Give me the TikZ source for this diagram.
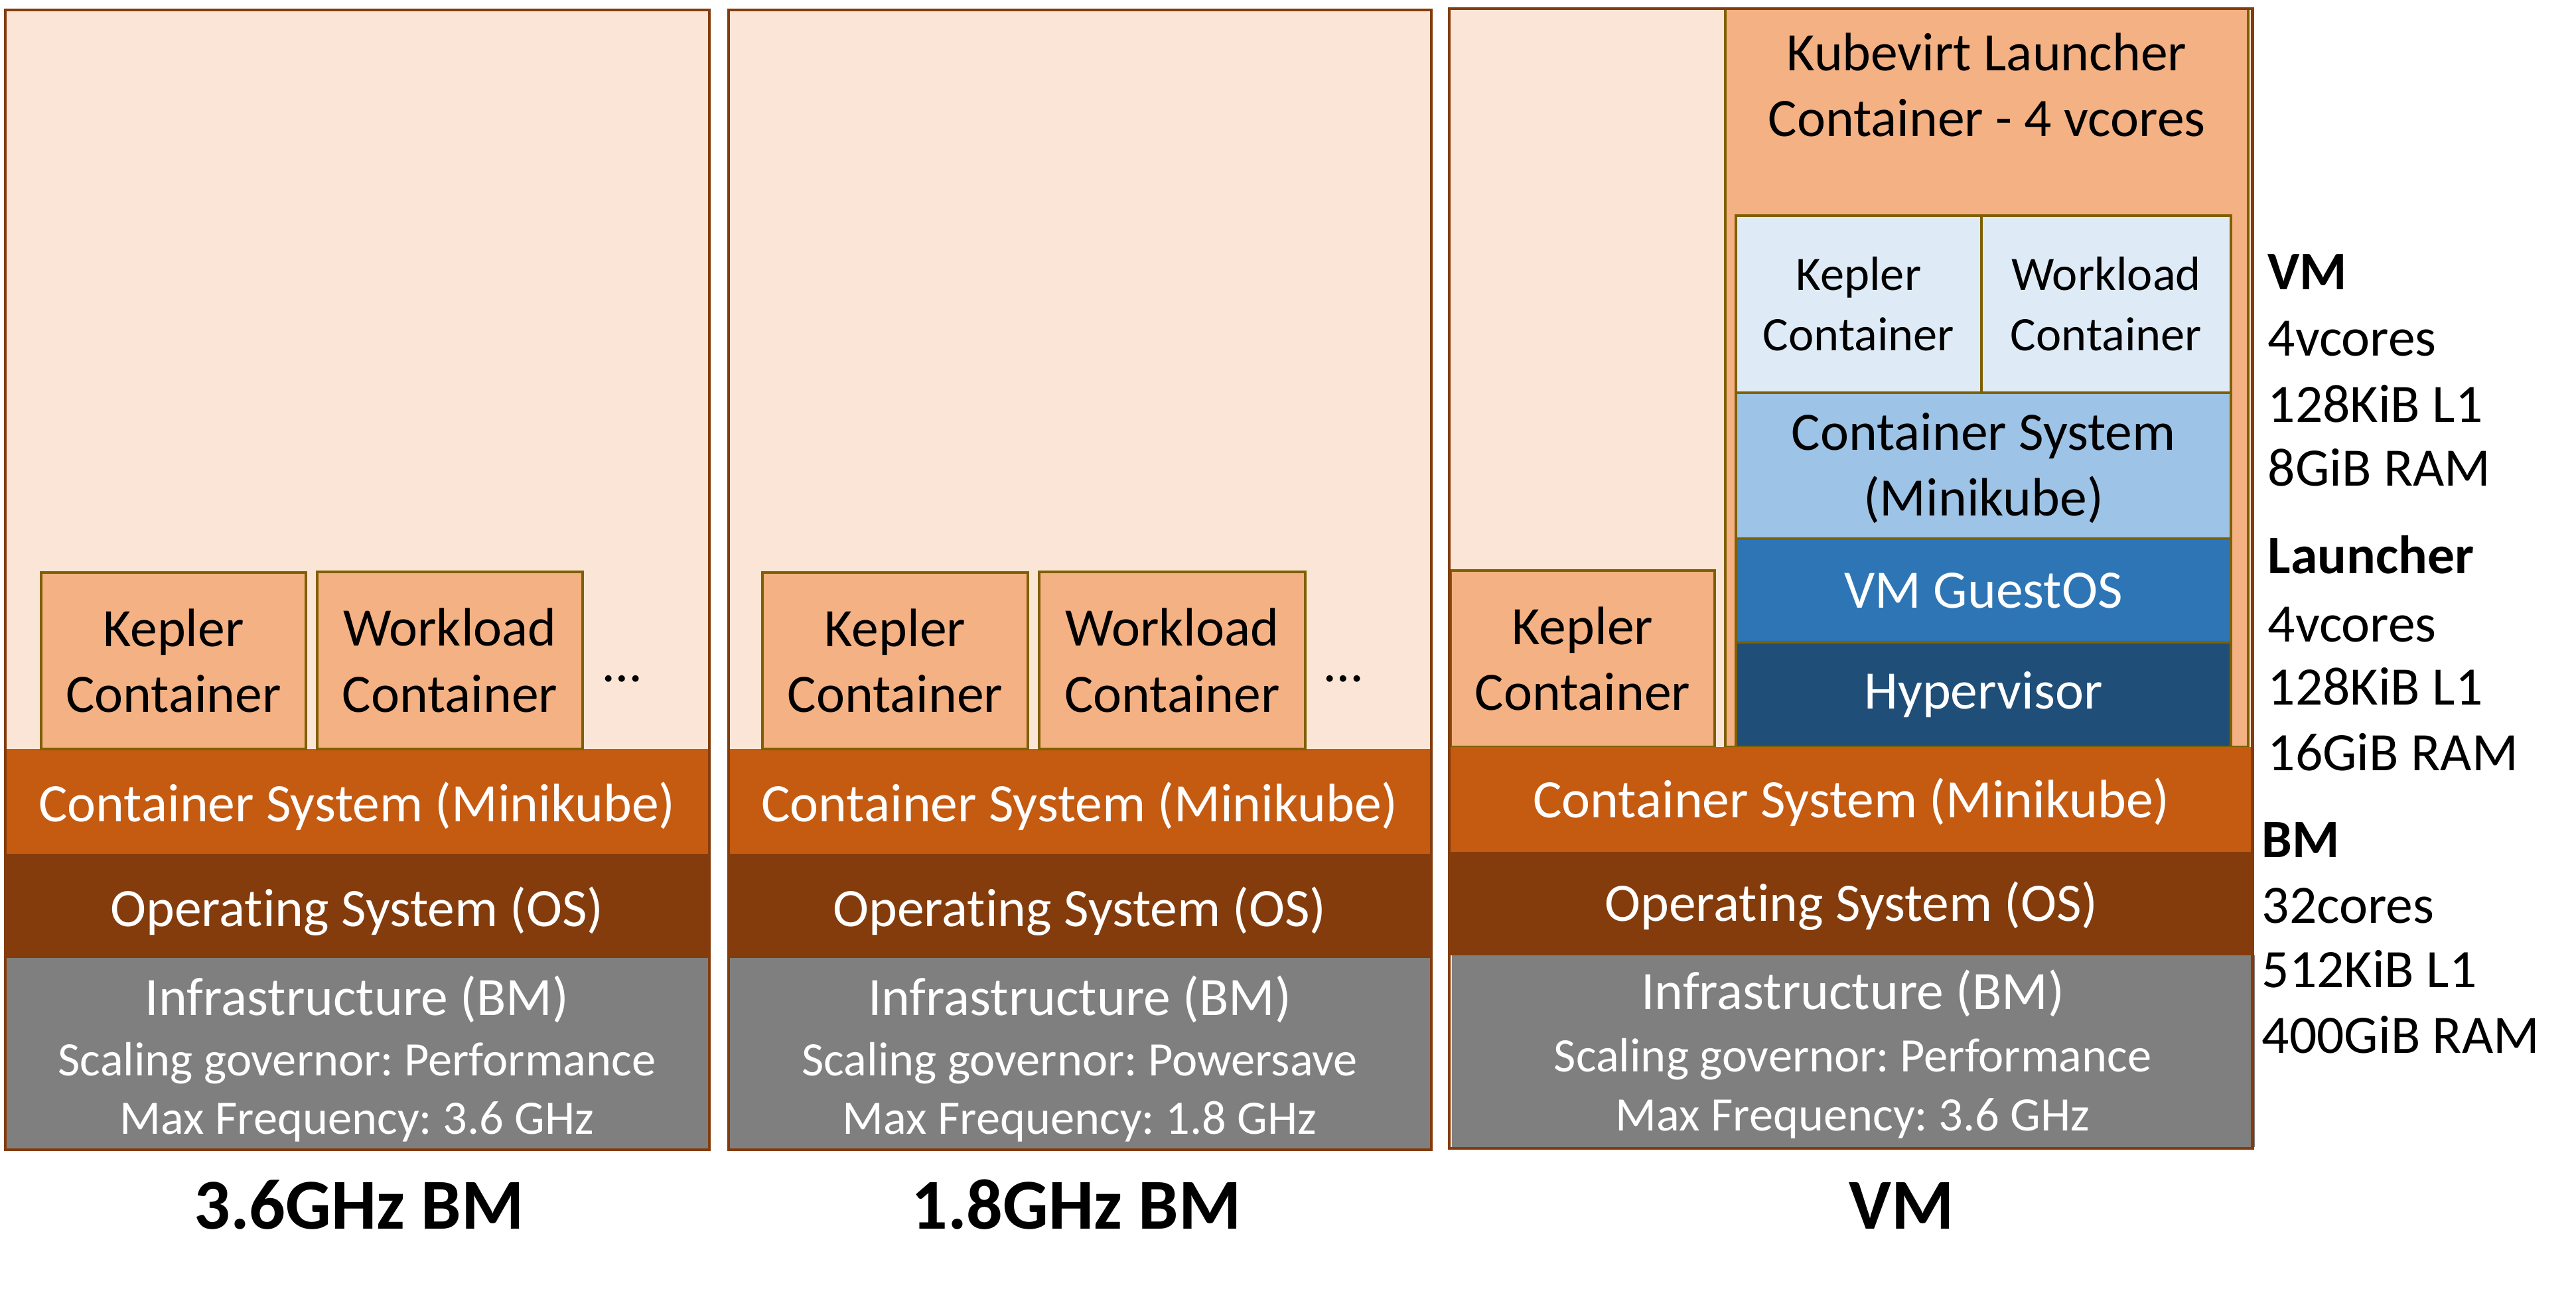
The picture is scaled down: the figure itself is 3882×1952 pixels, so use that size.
\documentclass[tikz,border=0pt]{standalone}
\usepackage{fontspec}
\setmainfont{Carlito}[Ligatures={NoCommon}]
\frenchspacing
\definecolor{peach}{HTML}{FBE5D6}
\definecolor{boxor}{HTML}{F4B183}
\definecolor{olivebr}{HTML}{7F6000}
\definecolor{panelbr}{HTML}{843C0C}
\definecolor{csband}{HTML}{C55A11}
\definecolor{osband}{HTML}{843C0C}
\definecolor{infraband}{HTML}{7F7F7F}
\definecolor{lblue}{HTML}{DEEBF7}
\definecolor{mblue}{HTML}{9DC3E6}
\definecolor{gblue}{HTML}{2E75B6}
\definecolor{hblue}{HTML}{1F4E79}
\begin{document}
\begin{tikzpicture}[x=0.01cm,y=-0.01cm,
  panelfill/.style={fill=peach},
  panelline/.style={draw=panelbr,line width=1.4pt},
  cbox/.style={fill=boxor,draw=olivebr,line width=1.2pt},
  ibox/.style={draw=olivebr,line width=1.2pt},
  big/.style={font=\fontsize{23.2}{28.2}\selectfont},
  bigb/.style={font=\fontsize{23.2}{28.2}\selectfont\bfseries},
  small/.style={font=\fontsize{20.6}{25.9}\selectfont},
  ttl/.style={font=\fontsize{30.7}{36}\selectfont\bfseries},
  lbl/.style={inner sep=0pt,align=center},
  wt/.style={text=white}]
\useasboundingbox (0,0) rectangle (3882,1952);

% ---------- Panel 1 ----------
\path[panelfill] (8,15) rectangle (1069,1733);
\fill[csband] (8,1129) rectangle (1069,1287);
\fill[osband] (8,1287) rectangle (1069,1444);
\fill[infraband] (8,1444) rectangle (1069,1733);
\draw[cbox] (62,863) rectangle (461,1129) node[midway,lbl,big] (k1) {Kepler\\Container};
\draw[cbox] (478,862) rectangle (878,1129) node[midway,lbl,big] (w1) {Workload\\Container};
\node[lbl,big,anchor=base] (d1) at (938,1027) {…};
\node[lbl,big,wt,anchor=base] (cs1) at (538,1238) {Container System (Minikube)};
\node[lbl,big,wt,anchor=base] (os1) at (538,1396) {Operating System (OS)};
\node[lbl,big,wt,anchor=base] (in1) at (538,1530) {Infrastructure (BM)};
\node[lbl,small,wt,anchor=base] (sg1) at (538,1621) {Scaling governor: Performance};
\node[lbl,small,wt,anchor=base] (mf1) at (538,1709) {Max Frequency: 3.6 GHz};
\draw[panelline] (8,15) rectangle (1069,1733);
\node[lbl,ttl,anchor=base] (t1) at (541,1852) {3.6GHz BM};

% ---------- Panel 2 ----------
\path[panelfill] (1098,15) rectangle (2157,1733);
\fill[csband] (1098,1129) rectangle (2157,1287);
\fill[osband] (1098,1287) rectangle (2157,1444);
\fill[infraband] (1098,1444) rectangle (2157,1733);
\draw[cbox] (1149,863) rectangle (1549,1129) node[midway,lbl,big] (k2) {Kepler\\Container};
\draw[cbox] (1566,862) rectangle (1967,1129) node[midway,lbl,big] (w2) {Workload\\Container};
\node[lbl,big,anchor=base] (d2) at (2025,1027) {…};
\node[lbl,big,wt,anchor=base] (cs2) at (1627,1238) {Container System (Minikube)};
\node[lbl,big,wt,anchor=base] (os2) at (1627,1396) {Operating System (OS)};
\node[lbl,big,wt,anchor=base] (in2) at (1627,1530) {Infrastructure (BM)};
\node[lbl,small,wt,anchor=base] (sg2) at (1627,1621) {Scaling governor: Powersave};
\node[lbl,small,wt,anchor=base] (mf2) at (1627,1709) {Max Frequency: 1.8 GHz};
\draw[panelline] (1098,15) rectangle (2157,1733);
\node[lbl,ttl,anchor=base] (t2) at (1622,1852) {1.8GHz BM};

% ---------- Panel 3 ----------
\path[panelfill] (2184,13) rectangle (3394,1731);
\draw[cbox] (2600,13) rectangle (3388,1126);
\node[lbl,big] (lc) at (2994,128) {Kubevirt Launcher\\Container - 4 vcores};
\draw[ibox,fill=lblue] (2616,325) rectangle (2986,592) node[midway,lbl,small] (k3i) {Kepler\\Container};
\draw[ibox,fill=lblue] (2986,325) rectangle (3362,592) node[midway,lbl,small] (w3i) {Workload\\Container};
\draw[ibox,fill=mblue] (2616,592) rectangle (3362,812);
\node[lbl,big] (cs3i) at (2989,706) {Container System\\(Minikube)};
\draw[ibox,fill=gblue] (2616,812) rectangle (3362,968) node[midway,lbl,big,wt] (go) {VM GuestOS};
\draw[ibox,fill=hblue] (2616,968) rectangle (3362,1126) node[midway,lbl,big,wt] (hv) {Hypervisor};
\draw[cbox] (2186,860) rectangle (2584,1126) node[midway,lbl,big] (k3) {Kepler\\Container};
\fill[csband] (2184,1126) rectangle (3396,1284);
\fill[osband] (2184,1284) rectangle (3396,1440);
\fill[infraband] (2188,1440) rectangle (3398,1729);
\node[lbl,big,wt,anchor=base] (cs3) at (2790,1232) {Container System (Minikube)};
\node[lbl,big,wt,anchor=base] (os3) at (2790,1388) {Operating System (OS)};
\node[lbl,big,wt,anchor=base] (in3) at (2792,1521) {Infrastructure (BM)};
\node[lbl,small,wt,anchor=base] (sg3) at (2792,1615) {Scaling governor: Performance};
\node[lbl,small,wt,anchor=base] (mf3) at (2792,1704) {Max Frequency: 3.6 GHz};
\draw[panelline] (2184,13) rectangle (3394,1731);
\node[lbl,ttl,anchor=base] (t3) at (2866,1852) {VM};

% ---------- Specs ----------
\node[lbl,bigb,anchor=base west] (s1) at (3417,436) {VM};
\node[lbl,big,anchor=base west] (s2) at (3417,537) {4vcores};
\node[lbl,big,anchor=base west] (s3) at (3417,636) {128KiB L1};
\node[lbl,big,anchor=base west] (s4) at (3417,732) {8GiB RAM};
\node[lbl,bigb,anchor=base west] (s5) at (3417,864) {Launcher};
\node[lbl,big,anchor=base west] (s6) at (3417,967) {4vcores};
\node[lbl,big,anchor=base west] (s7) at (3417,1062) {128KiB L1};
\node[lbl,big,anchor=base west] (s8) at (3417,1161) {16GiB RAM};
\node[lbl,bigb,anchor=base west] (s9) at (3408,1292) {BM};
\node[lbl,big,anchor=base west] (s10) at (3408,1391) {32cores};
\node[lbl,big,anchor=base west] (s11) at (3408,1488) {512KiB L1};
\node[lbl,big,anchor=base west] (s12) at (3408,1587) {400GiB RAM};
\end{tikzpicture}
\end{document}
